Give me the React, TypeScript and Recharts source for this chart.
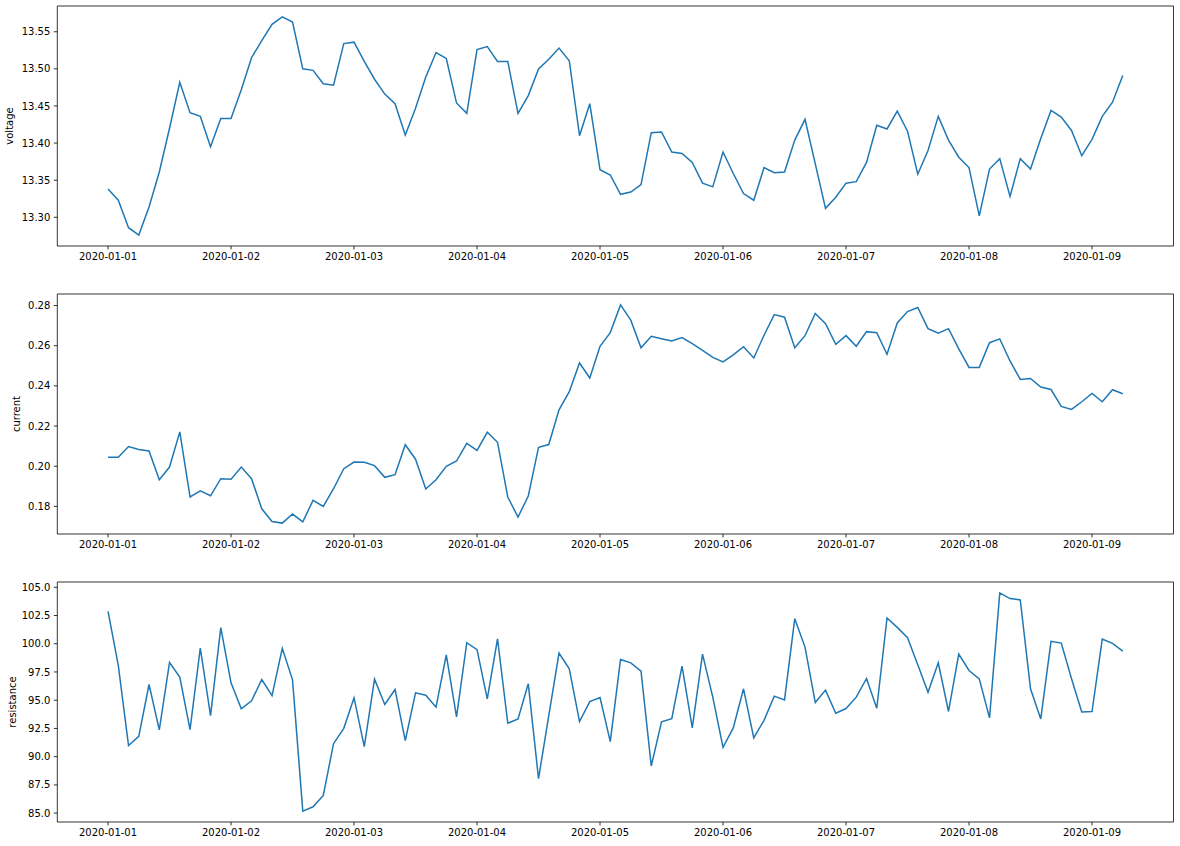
import { LineChart, Line, XAxis, YAxis, ReferenceArea } from 'recharts';

// hours since 2020-01-01 00:00, one sample every 2 hours
const hours = Array.from({ length: 100 }, (_, i) => i * 2);

const dayTicks = [0, 24, 48, 72, 96, 120, 144, 168, 192];
const dayLabels = [
    '2020-01-01', '2020-01-02', '2020-01-03', '2020-01-04', '2020-01-05',
    '2020-01-06', '2020-01-07', '2020-01-08', '2020-01-09',
];

const voltage = [
    13.338, 13.323, 13.286, 13.276, 13.314, 13.361, 13.420, 13.482, 13.441, 13.436,
    13.395, 13.433, 13.433, 13.472, 13.515, 13.538, 13.560, 13.570, 13.563, 13.500,
    13.498, 13.480, 13.478, 13.534, 13.536, 13.510, 13.486, 13.466, 13.453, 13.411,
    13.447, 13.489, 13.522, 13.514, 13.454, 13.440, 13.526, 13.530, 13.510, 13.510,
    13.440, 13.464, 13.500, 13.513, 13.528, 13.511, 13.410, 13.453, 13.364, 13.357,
    13.331, 13.334, 13.344, 13.414, 13.415, 13.388, 13.386, 13.374, 13.346, 13.341,
    13.388, 13.359, 13.332, 13.323, 13.367, 13.360, 13.361, 13.404, 13.432, 13.372,
    13.312, 13.327, 13.346, 13.348, 13.374, 13.424, 13.419, 13.443, 13.416, 13.358,
    13.390, 13.436, 13.404, 13.381, 13.367, 13.302, 13.365, 13.379, 13.328, 13.379,
    13.365, 13.406, 13.444, 13.435, 13.417, 13.383, 13.405, 13.436, 13.455, 13.491,
];

const current = [
    0.2045, 0.2045, 0.2098, 0.2083, 0.2076, 0.1933, 0.1996, 0.2171, 0.1847, 0.1877,
    0.1853, 0.1938, 0.1935, 0.1996, 0.1938, 0.1788, 0.1725, 0.1717, 0.1762, 0.1723,
    0.1830, 0.1800, 0.1888, 0.1988, 0.2021, 0.2020, 0.2003, 0.1945, 0.1958, 0.2107,
    0.2035, 0.1887, 0.1933, 0.2000, 0.2026, 0.2114, 0.2079, 0.2169, 0.2119, 0.1847,
    0.1747, 0.1852, 0.2094, 0.2108, 0.2281, 0.2371, 0.2514, 0.2439, 0.2597, 0.2665,
    0.2803, 0.2727, 0.2590, 0.2647, 0.2635, 0.2624, 0.2640, 0.2610, 0.2577, 0.2542,
    0.2519, 0.2554, 0.2595, 0.2539, 0.2652, 0.2755, 0.2742, 0.2590, 0.2650, 0.2760,
    0.2710, 0.2607, 0.2650, 0.2597, 0.2670, 0.2665, 0.2557, 0.2713, 0.2770, 0.2790,
    0.2685, 0.2662, 0.2685, 0.2584, 0.2492, 0.2492, 0.2615, 0.2634, 0.2524, 0.2432,
    0.2437, 0.2394, 0.2382, 0.2298, 0.2283, 0.2321, 0.2362, 0.2321, 0.2381, 0.2361,
];

const resistance = [
    102.87, 98.08, 90.98, 91.80, 96.39, 92.37, 98.34, 97.04, 92.40, 99.62,
    93.64, 101.42, 96.54, 94.23, 94.94, 96.83, 95.41, 99.59, 96.80, 85.18,
    85.56, 86.57, 91.15, 92.51, 95.21, 90.89, 96.86, 94.62, 95.95, 91.42,
    95.65, 95.44, 94.38, 99.02, 93.52, 100.09, 99.47, 95.12, 100.44, 92.96,
    93.34, 96.45, 88.05, 93.64, 99.17, 97.78, 93.11, 94.88, 95.24, 91.33,
    98.61, 98.31, 97.57, 89.17, 93.08, 93.37, 98.02, 92.54, 99.08, 95.27,
    90.83, 92.54, 96.01, 91.66, 93.22, 95.36, 95.03, 102.22, 99.70, 94.79,
    95.89, 93.85, 94.26, 95.27, 96.92, 94.29, 102.28, 101.45, 100.53, 98.14,
    95.71, 98.31, 94.00, 99.08, 97.63, 96.89, 93.43, 104.50, 104.00, 103.88,
    96.01, 93.34, 100.21, 100.06, 96.90, 93.96, 93.99, 100.41, 100.03, 99.35,
];

const voltageTicks = [13.30, 13.35, 13.40, 13.45, 13.50, 13.55];
const currentTicks = [0.18, 0.20, 0.22, 0.24, 0.26, 0.28];
const resistanceTicks = [85.0, 87.5, 90.0, 92.5, 95.0, 97.5, 100.0, 102.5, 105.0];

const FONT = '"DejaVu Sans", sans-serif';
const PLOT_H = 240;
const TOP_PAD = 6;
const X_AXIS_H = 22;

// matplotlib-style 5% margins
const pad = (lo: number, hi: number): [number, number] => {
    const m = (hi - lo) * 0.05;
    return [lo - m, hi + m];
};

const xDomain = pad(hours[0], hours[hours.length - 1]);

interface PanelProps {
    name: string;
    values: number[];
    ticks: number[];
    decimals: number;
    top: number;
    labelX: number;
}

function Panel({ name, values, ticks, decimals, top, labelX }: PanelProps) {
    const data = hours.map((h, i) => ({ h, v: values[i] }));
    const yDomain = pad(Math.min(...values), Math.max(...values));
    const cy = TOP_PAD + PLOT_H / 2;

    return (
        <div style={{ position: 'absolute', left: 0, top, width: 1180, height: PLOT_H + TOP_PAD + X_AXIS_H }}>
            <LineChart
                width={1180}
                height={PLOT_H + TOP_PAD + X_AXIS_H}
                data={data}
                margin={{ top: TOP_PAD, right: 6.5, bottom: 0, left: 0 }}
            >
                <XAxis
                    dataKey="h"
                    type="number"
                    domain={xDomain}
                    allowDataOverflow
                    ticks={dayTicks}
                    interval={0}
                    height={X_AXIS_H}
                    tickFormatter={(v: number) => dayLabels[dayTicks.indexOf(v)] ?? ''}
                    tick={{ fill: '#000', fontSize: 10, fontFamily: FONT }}
                    tickLine={{ stroke: '#000', strokeWidth: 0.8 }}
                    tickSize={3.5}
                    tickMargin={3.5}
                    axisLine={false}
                />
                <YAxis
                    type="number"
                    domain={yDomain}
                    allowDataOverflow
                    ticks={ticks}
                    interval={0}
                    width={57.3}
                    tickFormatter={(v: number) => v.toFixed(decimals)}
                    tick={{ fill: '#000', fontSize: 10, fontFamily: FONT }}
                    tickLine={{ stroke: '#000', strokeWidth: 0.8 }}
                    tickSize={3.5}
                    tickMargin={3.5}
                    axisLine={false}
                    label={() => (
                        <text
                            x={labelX}
                            y={cy}
                            transform={`rotate(-90 ${labelX} ${cy})`}
                            textAnchor="middle"
                            fontSize={10}
                            fontFamily={FONT}
                            fill="#000"
                        >
                            {name}
                        </text>
                    )}
                />
                <ReferenceArea
                    x1={xDomain[0]}
                    x2={xDomain[1]}
                    y1={yDomain[0]}
                    y2={yDomain[1]}
                    fill="none"
                    stroke="#000"
                    strokeWidth={0.8}
                    ifOverflow="visible"
                />
                <Line
                    type="linear"
                    dataKey="v"
                    stroke="#1f77b4"
                    strokeWidth={1.5}
                    dot={false}
                    isAnimationActive={false}
                />
            </LineChart>
        </div>
    );
}

export default function App() {
    return (
        <div style={{ position: 'absolute', left: 0, top: 0, width: 1180, height: 846, background: '#fff', overflow: 'hidden' }}>
            <Panel name="voltage" values={voltage} ticks={voltageTicks} decimals={2} top={0} labelX={13} />
            <Panel name="current" values={current} ticks={currentTicks} decimals={2} top={288.3} labelX={20} />
            <Panel name="resistance" values={resistance} ticks={resistanceTicks} decimals={1} top={576.3} labelX={15.5} />
        </div>
    );
}
